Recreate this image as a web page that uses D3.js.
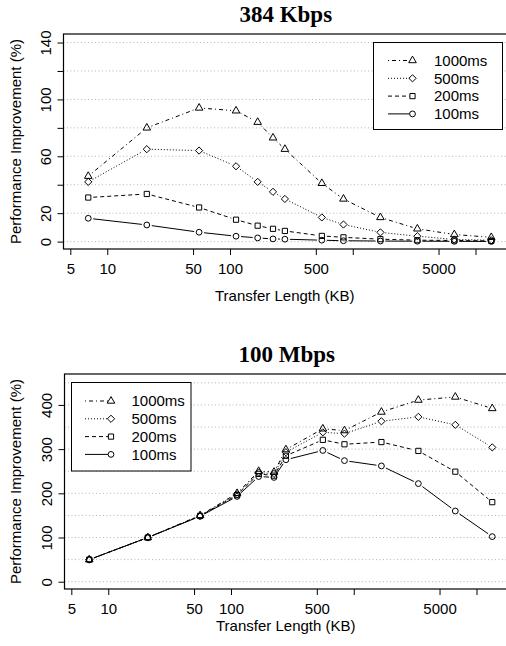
<!DOCTYPE html>
<html>
<head>
<meta charset="utf-8">
<script src="https://cdn.jsdelivr.net/npm/d3@7"></script>
<style>
  html, body { margin: 0; padding: 0; background: #fff; }
  svg { display: block; }
</style>
</head>
<body>
<script>
// ---------------- data ----------------
const transferKB = [7, 21, 56, 112, 168, 224, 280, 560, 840, 1680, 3360, 6720, 13440];
const seriesNames = ["1000ms", "500ms", "200ms", "100ms"];

// 384 Kbps panel
const kbps1000 = [46, 80, 94, 92, 84, 73, 65, 41, 30, 17, 9, 5, 3];
const kbps500  = [42, 65, 64, 53, 42, 35, 30, 17, 12, 6.5, 3.8, 1.5, 1];
const kbps200  = [31, 33.5, 24, 15.4, 11.2, 9, 7.5, 4, 3, 1.7, 1, 0.8, 0.5];
const kbps100  = [16.4, 11.7, 6.6, 3.8, 2.6, 1.9, 1.7, 1, 0.6, 0.4, 0.3, 0.2, 0.1];

// 100 Mbps panel
const mbps1000 = [50, 100, 150, 200, 250, 248, 299, 346, 342, 384, 411, 418, 392];
const mbps500  = [50, 100, 149, 198, 247, 244, 293, 338, 335, 363, 373, 355, 304];
const mbps200  = [50, 100, 149, 196, 244, 240, 285, 321, 311, 316, 296, 249, 180];
const mbps100  = [50, 100, 148, 193, 238, 236, 276, 297, 274, 262, 222, 160, 102];

// axes
const xTickValues = [5, 10, 50, 100, 500, 1000, 5000, 10000];
const xTickLabels = ["5", "10", "50", "100", "500", "", "5000", ""];
const kbpsYTicks  = [0, 20, 40, 60, 80, 100, 120, 140];
const kbpsYLabels = ["0", "20", "", "60", "", "100", "", "140"];
const kbpsGrid    = [0, 20, 40, 60, 80, 100, 120, 140];
const mbpsYTicks  = [0, 100, 200, 300, 400];
const mbpsYLabels = ["0", "100", "200", "300", "400"];
const mbpsGrid    = [0, 50, 100, 150, 200, 250, 300, 350, 400, 450];

// ---------------- styles ----------------
const dashes  = ["1,3,4,3", "1,2", "4,3", null];
const symbols = ["triangle", "diamond", "square", "circle"];
const SANS = "'Liberation Sans', Arial, Helvetica, sans-serif";
const SERIF = "'Liberation Serif', 'Times New Roman', serif";

const svg = d3.select("body").append("svg")
  .attr("width", 506).attr("height", 646);

function symbolPath(type, cx, cy) {
  if (type === "circle") {
    const r = 2.9;
    return `M${cx - r},${cy}a${r},${r} 0 1,0 ${2 * r},0a${r},${r} 0 1,0 ${-2 * r},0Z`;
  }
  if (type === "square") {
    const h = 2.6;
    return `M${cx - h},${cy - h}h${2 * h}v${2 * h}h${-2 * h}Z`;
  }
  if (type === "diamond") {
    const h = 3.6;
    return `M${cx},${cy - h}L${cx + h},${cy}L${cx},${cy + h}L${cx - h},${cy}Z`;
  }
  // triangle (centroid at point)
  const r = 4.4, xc = 3.8, yc = 2.2;
  return `M${cx},${cy - r}L${cx + xc},${cy + yc}L${cx - xc},${cy + yc}Z`;
}

function panel(cfg) {
  const x = d3.scaleLog().domain(cfg.xDomain).range([cfg.left, cfg.right]);
  const y = d3.scaleLinear().domain(cfg.yDomain).range([cfg.bottom, cfg.top]);
  const g = svg.append("g");

  // grid
  g.append("g").selectAll("line").data(cfg.grid).join("line")
    .attr("x1", cfg.left).attr("x2", cfg.right)
    .attr("y1", d => y(d)).attr("y2", d => y(d))
    .attr("stroke", "#b4b4b4").attr("stroke-width", 1)
    .attr("stroke-dasharray", "1,2.5");

  // box
  g.append("rect")
    .attr("x", cfg.left).attr("y", cfg.top)
    .attr("width", cfg.right - cfg.left).attr("height", cfg.bottom - cfg.top)
    .attr("fill", "none").attr("stroke", "#000").attr("stroke-width", 1.2);

  // x axis
  const xa = g.append("g").attr("transform", `translate(0,${cfg.bottom})`)
    .call(d3.axisBottom(x).tickValues(xTickValues)
      .tickFormat((d, i) => xTickLabels[i]).tickSizeInner(6).tickSizeOuter(0).tickPadding(8.5));
  xa.select(".domain").remove();
  xa.selectAll("line").attr("stroke", "#000");
  xa.selectAll("text").attr("font-family", SANS).attr("font-size", 15).attr("fill", "#000");

  // y axis
  const ya = g.append("g").attr("transform", `translate(${cfg.left},0)`)
    .call(d3.axisLeft(y).tickValues(cfg.yTicks)
      .tickFormat((d, i) => cfg.yLabels[i]).tickSizeInner(6).tickSizeOuter(0));
  ya.select(".domain").remove();
  ya.selectAll("line").attr("stroke", "#000");
  ya.selectAll("text")
    .attr("x", null).attr("dy", null)
    .attr("transform", "translate(-13,0) rotate(-90)")
    .attr("text-anchor", "middle")
    .attr("font-family", SANS).attr("font-size", 15).attr("fill", "#000");

  // titles
  g.append("text").attr("x", (cfg.left + cfg.right) / 2).attr("y", cfg.titleY)
    .attr("text-anchor", "middle").attr("font-family", SERIF)
    .attr("font-weight", "bold").attr("font-size", 23).text(cfg.title);
  g.append("text").attr("x", (cfg.left + cfg.right) / 2 - 1).attr("y", cfg.xLabelY)
    .attr("text-anchor", "middle").attr("font-family", SANS).attr("font-size", 15)
    .text("Transfer Length (KB)");
  const yc = (cfg.top + cfg.bottom) / 2;
  g.append("text").attr("transform", `translate(21,${yc}) rotate(-90)`)
    .attr("text-anchor", "middle").attr("font-family", SANS).attr("font-size", 15)
    .text("Performance Improvement (%)");

  // series (type "b": lines with gaps around points)
  const gap = 5;
  cfg.series.forEach((vals, si) => {
    const pts = vals.map((v, i) => [x(transferKB[i]), y(v)]);
    const segs = [];
    for (let i = 0; i < pts.length - 1; i++) {
      const [x1, y1] = pts[i], [x2, y2] = pts[i + 1];
      const dx = x2 - x1, dy = y2 - y1, L = Math.hypot(dx, dy);
      if (L > 2 * gap) {
        const ux = dx / L, uy = dy / L;
        segs.push([x1 + ux * gap, y1 + uy * gap, x2 - ux * gap, y2 - uy * gap]);
      }
    }
    g.append("g").selectAll("line").data(segs).join("line")
      .attr("x1", d => d[0]).attr("y1", d => d[1])
      .attr("x2", d => d[2]).attr("y2", d => d[3])
      .attr("stroke", "#000").attr("stroke-width", 1)
      .attr("stroke-dasharray", dashes[si]);
    g.append("g").selectAll("path").data(pts).join("path")
      .attr("d", d => symbolPath(symbols[si], d[0], d[1]))
      .attr("fill", "none").attr("stroke", "#000").attr("stroke-width", 1);
  });

  // legend
  const L = cfg.legend;
  g.append("rect").attr("x", L.x).attr("y", L.y).attr("width", L.w).attr("height", L.h)
    .attr("fill", "#fff").attr("stroke", "#000").attr("stroke-width", 1);
  seriesNames.forEach((name, si) => {
    const ry = L.rowY + si * L.rowStep;
    g.append("line").attr("x1", L.lineX).attr("x2", L.symX - 3)
      .attr("y1", ry).attr("y2", ry)
      .attr("stroke", "#000").attr("stroke-width", 1)
      .attr("stroke-dasharray", dashes[si]);
    g.append("path").attr("d", symbolPath(symbols[si], L.symX, ry))
      .attr("fill", "none").attr("stroke", "#000").attr("stroke-width", 1);
    g.append("text").attr("x", L.textX).attr("y", ry).attr("dy", "0.35em")
      .attr("font-family", SANS).attr("font-size", 15).text(name);
  });
}

panel({
  title: "384 Kbps", titleY: 22,
  left: 63.5, right: 508, top: 34, bottom: 249,
  xDomain: [4.4, 18400], yDomain: [-5.2, 146],
  yTicks: kbpsYTicks, yLabels: kbpsYLabels, grid: kbpsGrid,
  xLabelY: 301,
  series: [kbps1000, kbps500, kbps200, kbps100],
  legend: { x: 373.5, y: 42.5, w: 129, h: 87, rowY: 60.5, rowStep: 17.8, lineX: 388, symX: 412.5, textX: 434 }
});

panel({
  title: "100 Mbps", titleY: 362,
  left: 64.5, right: 509, top: 374, bottom: 589,
  xDomain: [4.4, 18400], yDomain: [-16.5, 470],
  yTicks: mbpsYTicks, yLabels: mbpsYLabels, grid: mbpsGrid,
  xLabelY: 631,
  series: [mbps1000, mbps500, mbps200, mbps100],
  legend: { x: 71.5, y: 382.5, w: 119.5, h: 88.5, rowY: 401, rowStep: 17.8, lineX: 85, symX: 111, textX: 131.5 }
});
</script>
</body>
</html>
